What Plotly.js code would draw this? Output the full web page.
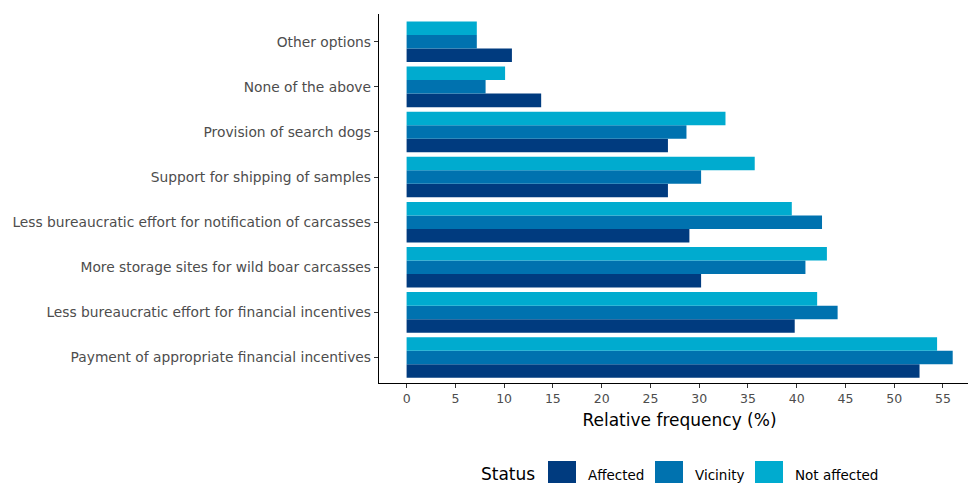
<!DOCTYPE html>
<html>
<head>
<meta charset="utf-8">
<script src="https://cdn.plot.ly/plotly-3.0.1.min.js"></script>
<style>
  html, body { margin: 0; padding: 0; background: #fff; overflow: hidden; }
  #wrap { width: 968px; height: 483px; overflow: hidden; }
  #chart { width: 981px; height: 483px; }
</style>
</head>
<body>
<div id="wrap"><div id="chart"></div></div>
<script>
// Measures, listed bottom to top
const categories = [
  "Payment of appropriate financial incentives",
  "Less bureaucratic effort for financial incentives",
  "More storage sites for wild boar carcasses",
  "Less bureaucratic effort for notification of carcasses",
  "Support for shipping of samples",
  "Provision of search dogs",
  "None of the above",
  "Other options"
];

const affected    = [52.6, 39.8, 30.2, 29.0, 26.8, 26.8, 13.8, 10.8];
const vicinity    = [56.0, 44.2, 40.9, 42.6, 30.2, 28.7, 8.1, 7.2];
const notAffected = [54.4, 42.1, 43.1, 39.5, 35.7, 32.7, 10.1, 7.2];

const seriesNames  = ["Affected", "Vicinity", "Not affected"];
const seriesColors = ["#003B7F", "#0072AF", "#00ABCF"];
const xTicks = [0, 5, 10, 15, 20, 25, 30, 35, 40, 45, 50, 55];

// The panel runs a little past the right edge of the visible page
const W = 981, H = 483;
const M = { l: 379, r: 1, t: 14, b: 100 };
const pw = W - M.l - M.r, ph = H - M.t - M.b;
const px = x => (x - M.l) / pw;
const py = y => (M.t + ph - y) / ph;

const FONT = "DejaVu Sans, Liberation Sans, sans-serif";

const traces = [affected, vicinity, notAffected].map((vals, i) => ({
  type: "bar",
  orientation: "h",
  name: seriesNames[i],
  x: vals,
  y: categories,
  marker: { color: seriesColors[i], line: { width: 0 } },
  showlegend: false,
  hoverinfo: "x+y+name"
}));

// Legend drawn along the bottom: title, colour keys and labels
const legendKeys = [
  { x0: 548, x1: 576, label: 586 },
  { x0: 655, x1: 683, label: 693 },
  { x0: 755, x1: 783, label: 793 }
];
const shapes = legendKeys.map((k, i) => ({
  type: "rect", xref: "paper", yref: "paper",
  x0: px(k.x0), x1: px(k.x1), y0: py(461), y1: py(490),
  fillcolor: seriesColors[i], line: { width: 0 }
}));
const annotations = [
  { text: "Status", x: px(537), y: py(474), xanchor: "right", yanchor: "middle",
    font: { size: 17, color: "#000" } }
].concat(legendKeys.map((k, i) => ({
  text: seriesNames[i], x: px(k.label), y: py(475), xanchor: "left", yanchor: "middle",
  font: { size: 13.5, color: "#000" }
}))).map(a => Object.assign({ xref: "paper", yref: "paper", showarrow: false }, a));

const layout = {
  width: W, height: H,
  margin: M,
  paper_bgcolor: "#fff",
  plot_bgcolor: "#fff",
  font: { family: FONT },
  barmode: "group",
  bargap: 0.1,
  bargroupgap: 0,
  xaxis: {
    range: [-2.83, 58.8],
    tickmode: "array",
    tickvals: xTicks,
    ticktext: xTicks.map(String),
    ticks: "outside", ticklen: 4, tickwidth: 1, tickcolor: "#333",
    tickfont: { size: 12.5, color: "#4D4D4D" },
    showgrid: false, zeroline: false,
    showline: true, linecolor: "#000", linewidth: 1.2,
    title: { text: "Relative frequency (%)", font: { size: 17, color: "#000" }, standoff: 8 }
  },
  yaxis: {
    type: "category",
    categoryorder: "array",
    categoryarray: categories,
    range: [-0.565, 7.615],
    ticks: "outside", ticklen: 4, tickwidth: 1, tickcolor: "#333",
    tickfont: { size: 13.8, color: "#4D4D4D" },
    showgrid: false, zeroline: false,
    showline: true, linecolor: "#000", linewidth: 1.2
  },
  shapes: shapes,
  annotations: annotations
};

Plotly.newPlot("chart", traces, layout, { displayModeBar: false, staticPlot: true });
</script>
</body>
</html>
